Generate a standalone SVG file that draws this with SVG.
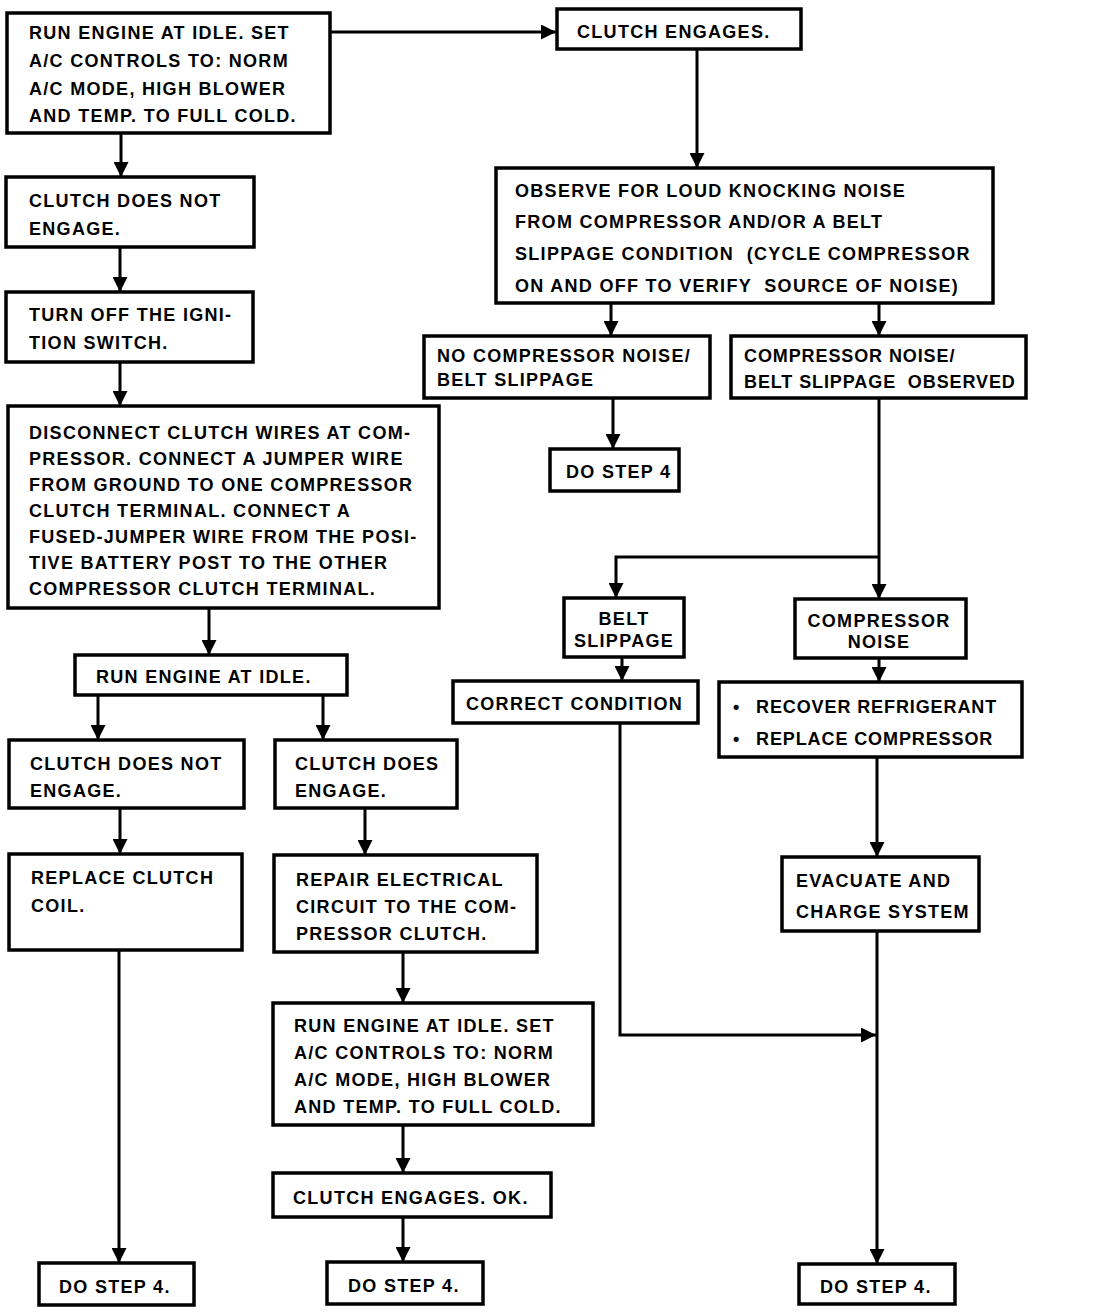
<svg xmlns="http://www.w3.org/2000/svg" width="1104" height="1314" viewBox="0 0 1104 1314">
<defs>
<style>
.box{fill:#fff;stroke:#000;stroke-width:3.5}
.t{font-family:"Liberation Sans",Arial,sans-serif;font-weight:bold;font-size:18px;letter-spacing:1.3px;fill:#000}
.n{letter-spacing:0.9px}
.c{text-anchor:middle}
.ln{fill:none;stroke:#000;stroke-width:3}
</style>
<marker id="ah" markerUnits="userSpaceOnUse" markerWidth="15" markerHeight="15" viewBox="0 0 15 15" refX="15" refY="7.5" orient="auto">
<path d="M0,0 L15,7.5 L0,15 z" fill="#000"/>
</marker>
</defs>
<rect width="1104" height="1314" fill="#fff"/>
<g id="connectors">
<path class="ln" d="M330,32 H556" marker-end="url(#ah)"/>
<path class="ln" d="M697,50 V168" marker-end="url(#ah)"/>
<path class="ln" d="M611,303 V336" marker-end="url(#ah)"/>
<path class="ln" d="M879,303 V336" marker-end="url(#ah)"/>
<path class="ln" d="M613,398 V449" marker-end="url(#ah)"/>
<path class="ln" d="M879,398 V599" marker-end="url(#ah)"/>
<path class="ln" d="M879,557 H616 V598" marker-end="url(#ah)"/>
<path class="ln" d="M622,657 V681" marker-end="url(#ah)"/>
<path class="ln" d="M879,658 V682" marker-end="url(#ah)"/>
<path class="ln" d="M877,757 V857" marker-end="url(#ah)"/>
<path class="ln" d="M620,723 V1035 H876" marker-end="url(#ah)"/>
<path class="ln" d="M877,931 V1264" marker-end="url(#ah)"/>
<path class="ln" d="M121,133 V177" marker-end="url(#ah)"/>
<path class="ln" d="M120,247 V292" marker-end="url(#ah)"/>
<path class="ln" d="M120,362 V406" marker-end="url(#ah)"/>
<path class="ln" d="M209,608 V655" marker-end="url(#ah)"/>
<path class="ln" d="M98,695 V740" marker-end="url(#ah)"/>
<path class="ln" d="M323,695 V740" marker-end="url(#ah)"/>
<path class="ln" d="M120,808 V854" marker-end="url(#ah)"/>
<path class="ln" d="M365,808 V855" marker-end="url(#ah)"/>
<path class="ln" d="M119,950 V1263" marker-end="url(#ah)"/>
<path class="ln" d="M403,952 V1003" marker-end="url(#ah)"/>
<path class="ln" d="M403,1125 V1173" marker-end="url(#ah)"/>
<path class="ln" d="M403,1217 V1262" marker-end="url(#ah)"/>
</g>
<g id="n_run1">
<rect class="box" x="7" y="13" width="323" height="120"/>
<text class="t" x="29" y="39">RUN ENGINE AT IDLE. SET</text>
<text class="t" x="29" y="67">A/C CONTROLS TO: NORM</text>
<text class="t" x="29" y="95">A/C MODE, HIGH BLOWER</text>
<text class="t" x="29" y="122">AND TEMP. TO FULL COLD.</text>
</g>
<g id="n_engages">
<rect class="box" x="557" y="9" width="244" height="40"/>
<text class="t" x="577" y="38">CLUTCH ENGAGES.</text>
</g>
<g id="n_observe">
<rect class="box" x="496" y="168" width="497" height="135"/>
<text class="t" x="515" y="197">OBSERVE FOR LOUD KNOCKING NOISE</text>
<text class="t" x="515" y="228">FROM COMPRESSOR AND/OR A BELT</text>
<text class="t" x="515" y="260" xml:space="preserve">SLIPPAGE CONDITION  (CYCLE COMPRESSOR</text>
<text class="t" x="515" y="292" xml:space="preserve">ON AND OFF TO VERIFY  SOURCE OF NOISE)</text>
</g>
<g id="n_nonoise">
<rect class="box" x="424" y="336" width="286" height="62"/>
<text class="t" x="437" y="362">NO COMPRESSOR NOISE/</text>
<text class="t" x="437" y="386">BELT SLIPPAGE</text>
</g>
<g id="n_noise">
<rect class="box" x="731" y="336" width="295" height="62"/>
<text class="t n" x="744" y="362">COMPRESSOR NOISE/</text>
<text class="t n" x="744" y="388" xml:space="preserve">BELT SLIPPAGE  OBSERVED</text>
</g>
<g id="n_step4a">
<rect class="box" x="550" y="449" width="129" height="42"/>
<text class="t" x="566" y="478">DO STEP 4</text>
</g>
<g id="n_belt">
<rect class="box" x="564" y="598" width="120" height="59"/>
<text class="t c" x="624" y="625">BELT</text>
<text class="t c" x="624" y="647">SLIPPAGE</text>
</g>
<g id="n_compnoise">
<rect class="box" x="795" y="599" width="171" height="59"/>
<text class="t c" x="879" y="627">COMPRESSOR</text>
<text class="t c" x="879" y="648">NOISE</text>
</g>
<g id="n_correct">
<rect class="box" x="453" y="681" width="245" height="42"/>
<text class="t" x="466" y="710">CORRECT CONDITION</text>
</g>
<g id="n_recover">
<rect class="box" x="719" y="682" width="303" height="75"/>
<text class="t" x="733" y="713">•</text>
<text class="t n" x="756" y="713">RECOVER REFRIGERANT</text>
<text class="t" x="733" y="745">•</text>
<text class="t n" x="756" y="745">REPLACE COMPRESSOR</text>
</g>
<g id="n_evacuate">
<rect class="box" x="782" y="857" width="197" height="74"/>
<text class="t" x="796" y="887">EVACUATE AND</text>
<text class="t" x="796" y="918">CHARGE SYSTEM</text>
</g>
<g id="n_step4c">
<rect class="box" x="799" y="1264" width="156" height="40"/>
<text class="t" x="820" y="1293">DO STEP 4.</text>
</g>
<g id="n_notengage1">
<rect class="box" x="6" y="177" width="248" height="70"/>
<text class="t" x="29" y="207">CLUTCH DOES NOT</text>
<text class="t" x="29" y="235">ENGAGE.</text>
</g>
<g id="n_ignition">
<rect class="box" x="6" y="292" width="247" height="70"/>
<text class="t" x="29" y="321">TURN OFF THE IGNI-</text>
<text class="t" x="29" y="349">TION SWITCH.</text>
</g>
<g id="n_disconnect">
<rect class="box" x="8" y="406" width="431" height="202"/>
<text class="t" x="29" y="439">DISCONNECT CLUTCH WIRES AT COM-</text>
<text class="t" x="29" y="465">PRESSOR. CONNECT A JUMPER WIRE</text>
<text class="t" x="29" y="491">FROM GROUND TO ONE COMPRESSOR</text>
<text class="t" x="29" y="517">CLUTCH TERMINAL. CONNECT A</text>
<text class="t" x="29" y="543">FUSED-JUMPER WIRE FROM THE POSI-</text>
<text class="t" x="29" y="569">TIVE BATTERY POST TO THE OTHER</text>
<text class="t" x="29" y="595">COMPRESSOR CLUTCH TERMINAL.</text>
</g>
<g id="n_run2">
<rect class="box" x="75" y="655" width="272" height="40"/>
<text class="t" x="96" y="683">RUN ENGINE AT IDLE.</text>
</g>
<g id="n_notengage2">
<rect class="box" x="9" y="740" width="235" height="68"/>
<text class="t" x="30" y="770">CLUTCH DOES NOT</text>
<text class="t" x="30" y="797">ENGAGE.</text>
</g>
<g id="n_doesengage">
<rect class="box" x="275" y="740" width="182" height="68"/>
<text class="t" x="295" y="770">CLUTCH DOES</text>
<text class="t" x="295" y="797">ENGAGE.</text>
</g>
<g id="n_replacecoil">
<rect class="box" x="9" y="854" width="233" height="96"/>
<text class="t" x="31" y="884">REPLACE CLUTCH</text>
<text class="t" x="31" y="912">COIL.</text>
</g>
<g id="n_repair">
<rect class="box" x="274" y="855" width="263" height="97"/>
<text class="t" x="296" y="886">REPAIR ELECTRICAL</text>
<text class="t" x="296" y="913">CIRCUIT TO THE COM-</text>
<text class="t" x="296" y="940">PRESSOR CLUTCH.</text>
</g>
<g id="n_run3">
<rect class="box" x="273" y="1003" width="320" height="122"/>
<text class="t" x="294" y="1032">RUN ENGINE AT IDLE. SET</text>
<text class="t" x="294" y="1059">A/C CONTROLS TO: NORM</text>
<text class="t" x="294" y="1086">A/C MODE, HIGH BLOWER</text>
<text class="t" x="294" y="1113">AND TEMP. TO FULL COLD.</text>
</g>
<g id="n_engagesok">
<rect class="box" x="273" y="1173" width="278" height="44"/>
<text class="t" x="293" y="1204">CLUTCH ENGAGES. OK.</text>
</g>
<g id="n_step4b">
<rect class="box" x="327" y="1262" width="156" height="42"/>
<text class="t" x="348" y="1292">DO STEP 4.</text>
</g>
<g id="n_step4l">
<rect class="box" x="39" y="1263" width="155" height="42"/>
<text class="t" x="59" y="1293">DO STEP 4.</text>
</g>
</svg>
